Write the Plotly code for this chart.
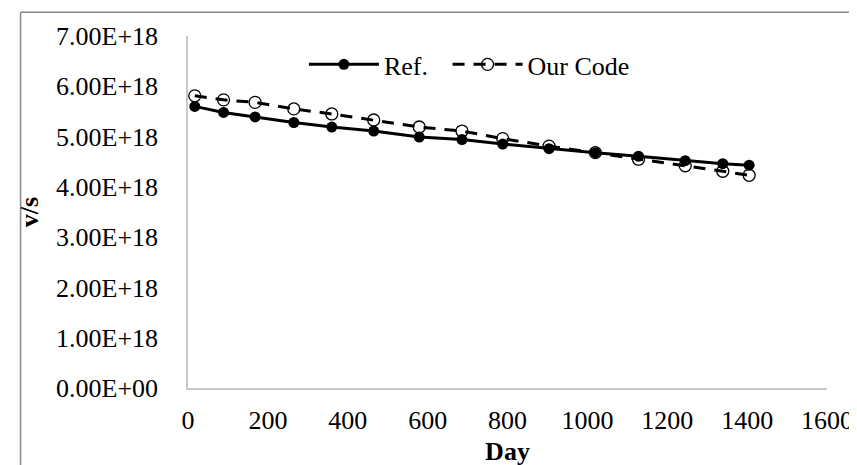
import plotly.graph_objects as go

days = [17, 89, 168, 265, 360, 465, 579, 686, 788, 904, 1020, 1128, 1245, 1339, 1405]
ref_vals = [5.60e18, 5.48e18, 5.39e18, 5.28e18, 5.19e18, 5.11e18, 4.99e18, 4.94e18,
            4.85e18, 4.76e18, 4.68e18, 4.61e18, 4.52e18, 4.46e18, 4.43e18]
our_vals = [5.81e18, 5.73e18, 5.68e18, 5.55e18, 5.45e18, 5.33e18, 5.19e18, 5.11e18,
            4.96e18, 4.81e18, 4.68e18, 4.55e18, 4.42e18, 4.31e18, 4.23e18]

y_tickvals = [0, 1e18, 2e18, 3e18, 4e18, 5e18, 6e18, 7e18]
y_ticktext = ["0.00E+00", "1.00E+18", "2.00E+18", "3.00E+18", "4.00E+18",
              "5.00E+18", "6.00E+18", "7.00E+18"]
x_tickvals = [0, 200, 400, 600, 800, 1000, 1200, 1400, 1600]

FONT = "Liberation Serif, Times New Roman, serif"
FS = 26

fig = go.Figure()
fig.add_trace(go.Scatter(
    x=days, y=ref_vals, name="Ref.", mode="lines+markers", legend="legend",
    line=dict(color="black", width=3),
    marker=dict(symbol="circle", size=11, color="black"),
))
fig.add_trace(go.Scatter(
    x=days, y=our_vals, name="Our Code", mode="lines+markers", legend="legend2",
    line=dict(color="black", width=3, dash="12px,9px"),
    marker=dict(symbol="circle-open", size=12, color="black", line=dict(width=1.3, color="black")),
))

W, H = 857, 465
L, R, T, B = 180, 32, 28, 83
pw, ph = W - L - R, H - T - B

def px_x(p):
    return (p - L) / pw

def px_y(p):
    return (H - B - p) / ph

legend_common = dict(
    orientation="h", yanchor="top", xanchor="left",
    font=dict(family=FONT, size=FS, color="black"),
    bgcolor="rgba(0,0,0,0)", itemwidth=70,
)

fig.update_layout(
    width=W, height=H,
    margin=dict(l=L, r=R, t=T, b=B),
    paper_bgcolor="white", plot_bgcolor="white",
    font=dict(family=FONT, size=FS, color="black"),
    showlegend=True,
    legend=dict(x=px_x(297), y=px_y(33), **legend_common),
    legend2=dict(x=px_x(442), y=px_y(33), **legend_common),
    xaxis=dict(
        range=[0, 1600], tickvals=x_tickvals, showgrid=False, zeroline=False,
        showline=True, linecolor="#c8c8c8", linewidth=1.5, ticks="",
        ticklabelstandoff=8,
        title=dict(text="<b>Day</b>", font=dict(family=FONT, size=FS), standoff=8),
    ),
    yaxis=dict(
        range=[0, 7e18], tickvals=y_tickvals, ticktext=y_ticktext, showgrid=False,
        zeroline=False, showline=True, linecolor="#c8c8c8", linewidth=1.5, ticks="",
        ticklabelstandoff=23,
        title=dict(text="<b>v/s</b>", font=dict(family=FONT, size=FS), standoff=10),
    ),
    shapes=[
        dict(type="line", xref="paper", yref="paper", x0=px_x(11), x1=px_x(11),
             y0=px_y(520), y1=px_y(4), line=dict(color="#888888", width=1.5)),
        dict(type="line", xref="paper", yref="paper", x0=px_x(11), x1=px_x(900),
             y0=px_y(4), y1=px_y(4), line=dict(color="#888888", width=1.5)),
    ],
)

fig.write_html("out.html")
